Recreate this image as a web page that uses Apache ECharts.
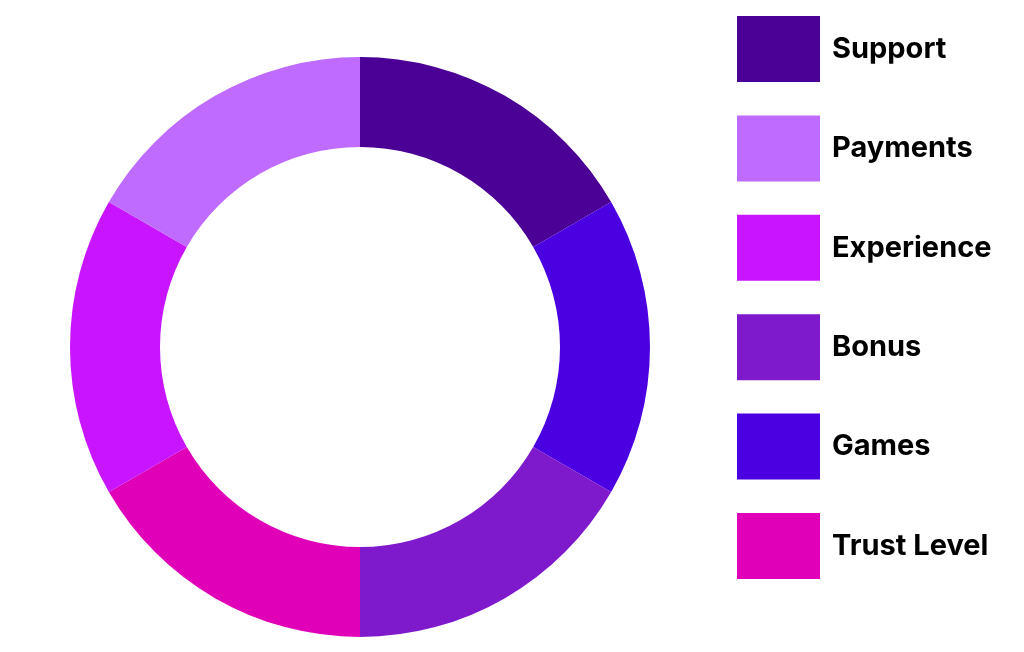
<!DOCTYPE html>
<html>
<head>
<meta charset="utf-8">
<script src="https://cdn.jsdelivr.net/npm/echarts@6/dist/echarts.min.js"></script>
<style>
html,body{margin:0;padding:0;background:#fff;}
#chart{width:1024px;height:652px;}
</style>
</head>
<body>
<div id="chart"></div>
<script>
// Slices in clockwise order starting at 12 o'clock
const categories = ['Support', 'Games', 'Bonus', 'Trust Level', 'Experience', 'Payments'];
const values = [1, 1, 1, 1, 1, 1];
const colors = ['#4B0096', '#4A00E0', '#7F19CC', '#E000B8', '#C814FF', '#BF6BFF'];
const legendOrder = ['Support', 'Payments', 'Experience', 'Bonus', 'Games', 'Trust Level'];

const chart = echarts.init(document.getElementById('chart'), null, {renderer: 'canvas'});
chart.setOption({
  backgroundColor: '#ffffff',
  animation: false,
  legend: {
    data: legendOrder,
    orient: 'vertical',
    left: 737,
    top: 16,
    icon: 'rect',
    itemWidth: 83,
    itemHeight: 66,
    itemGap: 33.4,
    padding: 0,
    selectedMode: false,
    textStyle: {
      fontFamily: 'Inter',
      fontWeight: 700,
      fontSize: 29,
      color: '#000000',
      padding: [5, 0, 0, 7]
    }
  },
  series: [{
    type: 'pie',
    center: [360, 347],
    radius: [200, 290],
    startAngle: 90,
    clockwise: true,
    label: {show: false},
    labelLine: {show: false},
    emphasis: {disabled: true},
    itemStyle: {borderWidth: 0},
    data: categories.map((c, i) => ({name: c, value: values[i], itemStyle: {color: colors[i]}}))
  }]
});
</script>
</body>
</html>
